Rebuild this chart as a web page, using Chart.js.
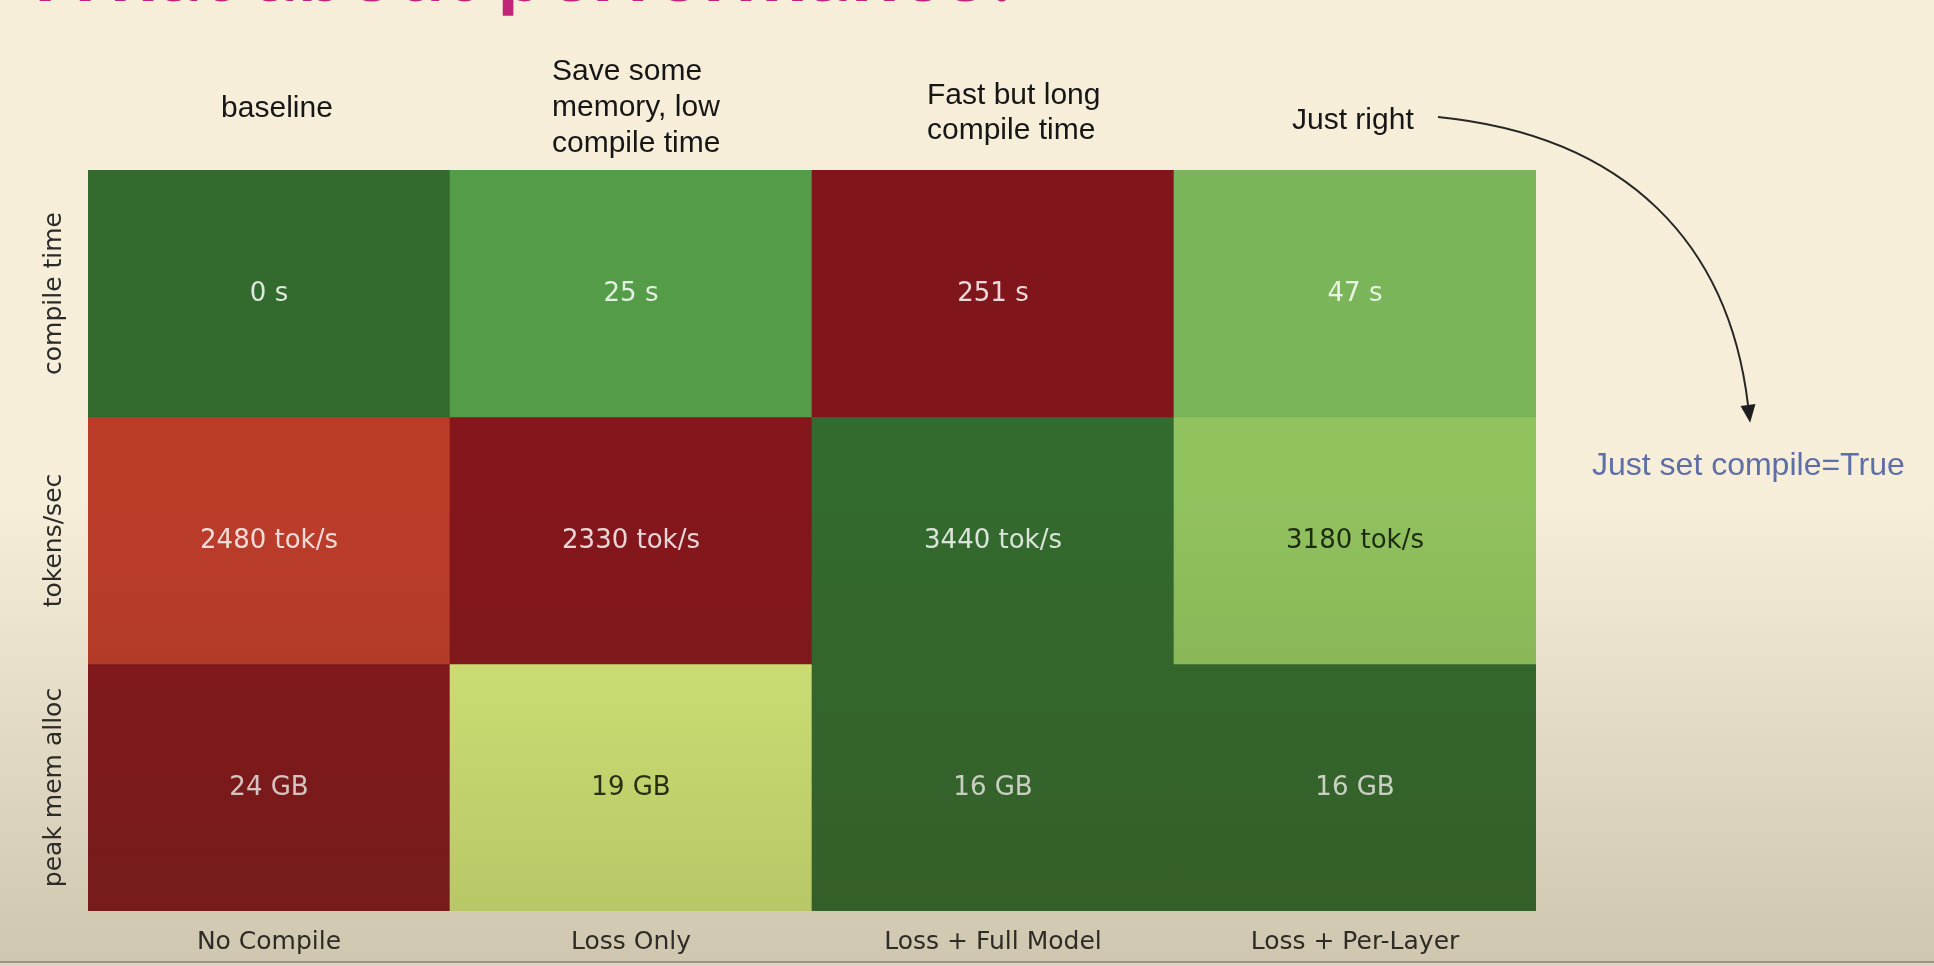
<!DOCTYPE html>
<html><head><meta charset="utf-8">
<script src="https://cdn.jsdelivr.net/npm/chart.js@4.4.1/dist/chart.umd.min.js"></script>
<style>
html,body{margin:0;padding:0;background:#f6eed9;overflow:hidden}
#wrap{width:1934px;height:966px;position:relative}
canvas{display:block}
</style>
</head><body>
<div id="wrap"><canvas id="c" width="1934" height="966"></canvas></div>
<script>
// ---- data ----
const columns = ['No Compile', 'Loss Only', 'Loss + Full Model', 'Loss + Per-Layer'];
const rows = ['compile time', 'tokens/sec', 'peak mem alloc'];
const compileTime = [0, 25, 251, 47];
const tokensPerSec = [2480, 2330, 3440, 3180];
const peakMem = [24, 19, 16, 16];
const units = ['s', 'tok/s', 'GB'];
const columnNotes = [['baseline'], ['Save some', 'memory, low', 'compile time'], ['Fast but long', 'compile time'], ['Just right']];
const calloutText = 'Just set compile=True';
const titleText = 'What about performance?';

// ---- style ----
const rowValues = [compileTime, tokensPerSec, peakMem];
const cellColors = [
  ['#336a2e', '#559c48', '#80161b', '#7ab55a'],
  ['#bc3c2a', '#84161c', '#336a2e', '#90c25e'],
  ['#84161c', '#d5ea7a', '#336a2e', '#336a2e']
];
const tickFont = {family: "'DejaVu Sans'", size: 25};

function luminance(hex) {
  const c = [1, 3, 5].map(i => parseInt(hex.substr(i, 2), 16) / 255)
    .map(v => v <= 0.03928 ? v / 12.92 : Math.pow((v + 0.055) / 1.055, 2.4));
  return 0.2126 * c[0] + 0.7152 * c[1] + 0.0722 * c[2];
}

// measure widest row label to centre rotated y tick labels 34px left of the axis
const mctx = document.createElement('canvas').getContext('2d');
mctx.font = "normal 25px 'DejaVu Sans'";
const widestRow = Math.max(...rows.map(r => mctx.measureText(r).width));
const yPad = 34 - widestRow / 2;

const datasets = rows.map((r, i) => ({
  label: r,
  data: rowValues[i].map(() => [i, i + 1]),
  backgroundColor: cellColors[i],
  borderWidth: 0,
  barPercentage: 1,
  categoryPercentage: 1,
  grouped: false
}));

const decor = {
  id: 'decor',
  beforeDraw(chart) {
    const ctx = chart.ctx;
    ctx.save();
    ctx.fillStyle = '#f6eed9';
    ctx.fillRect(0, 0, chart.width, chart.height);
    ctx.restore();
  },
  afterDatasetsDraw(chart) {
    const ctx = chart.ctx;
    ctx.save();
    ctx.font = "26px 'DejaVu Sans'";
    ctx.textAlign = 'center';
    ctx.textBaseline = 'middle';
    chart.data.datasets.forEach((ds, i) => {
      chart.getDatasetMeta(i).data.forEach((bar, j) => {
        const p = bar.getProps(['x', 'y', 'base'], true);
        const dark = luminance(cellColors[i][j]) > 0.408;
        ctx.fillStyle = dark ? 'rgba(15,25,5,0.9)' : 'rgba(255,255,255,0.84)';
        ctx.fillText(rowValues[i][j] + ' ' + units[i], p.x, (p.y + p.base) / 2 + 1);
      });
    });
    ctx.restore();
  },
  afterDraw(chart) {
    const ctx = chart.ctx;
    const xs = chart.scales.x;
    ctx.save();
    // lighting overlay towards the bottom of the frame
    const g = ctx.createLinearGradient(0, 500, 0, 966);
    g.addColorStop(0, 'rgba(60,50,20,0)');
    g.addColorStop(1, 'rgba(60,50,20,0.21)');
    ctx.fillStyle = g;
    ctx.fillRect(0, 500, chart.width, 466);
    // bottom frame line
    ctx.fillStyle = 'rgba(140,134,120,0.8)';
    ctx.fillRect(0, 961, chart.width, 2);
    ctx.fillStyle = '#dcd6c8';
    ctx.fillRect(0, 963, chart.width, 3);

    // title (cut off at the top)
    ctx.fillStyle = '#c2247a';
    ctx.font = "bold 86px Lato";
    ctx.textAlign = 'left';
    ctx.textBaseline = 'alphabetic';
    ctx.fillText(titleText, 20, 1);

    // column notes
    ctx.fillStyle = '#161616';
    ctx.font = "30px 'Liberation Sans'";
    const baselines = [[117], [80, 116, 152], [104, 139], [129]];
    const lefts = [null, 552, 927, 1292];
    columnNotes.forEach((lines, j) => {
      lines.forEach((ln, k) => {
        if (lefts[j] === null) {
          ctx.textAlign = 'center';
          ctx.fillText(ln, xs.getPixelForValue(j) + 8, baselines[j][k]);
        } else {
          ctx.textAlign = 'left';
          ctx.fillText(ln, lefts[j], baselines[j][k]);
        }
      });
    });

    // arrow from "Just right" to the callout
    const p0 = [1438, 117], p3 = [1748, 405];
    const c1 = [p0[0] + 190, p0[1] + 19], c2 = [p3[0] - 19, p3[1] - 160];
    ctx.strokeStyle = '#262626';
    ctx.lineWidth = 2;
    ctx.beginPath();
    ctx.moveTo(p0[0], p0[1]);
    ctx.bezierCurveTo(c1[0], c1[1], c2[0], c2[1], p3[0], p3[1]);
    ctx.stroke();
    const dx = p3[0] - c2[0], dy = p3[1] - c2[1];
    const L = Math.hypot(dx, dy), ux = dx / L, uy = dy / L;
    const tip = [p3[0] + ux * 18, p3[1] + uy * 18];
    ctx.fillStyle = '#1e1e1e';
    ctx.beginPath();
    ctx.moveTo(tip[0], tip[1]);
    ctx.lineTo(p3[0] - uy * 7.5, p3[1] + ux * 7.5);
    ctx.lineTo(p3[0] + uy * 7.5, p3[1] - ux * 7.5);
    ctx.closePath();
    ctx.fill();

    // callout
    ctx.fillStyle = '#5d6ea8';
    ctx.font = "32px 'Liberation Sans'";
    ctx.textAlign = 'left';
    ctx.fillText(calloutText, 1592, 475);
    ctx.restore();
  }
};

new Chart(document.getElementById('c'), {
  type: 'bar',
  data: {labels: columns, datasets},
  options: {
    responsive: false,
    animation: false,
    devicePixelRatio: 1,
    layout: {padding: {top: 170, right: 398, left: 0, bottom: 0}},
    plugins: {legend: {display: false}, tooltip: {enabled: false}, title: {display: false}},
    scales: {
      x: {
        type: 'category',
        grid: {display: false, drawTicks: false},
        border: {display: false},
        ticks: {font: tickFont, color: '#2a2a2a', padding: 16, maxRotation: 0, autoSkip: false},
        afterFit: s => { s.height = 55; }
      },
      y: {
        type: 'linear',
        min: 0, max: 3, reverse: true,
        grid: {display: false, drawTicks: false},
        border: {display: false},
        afterBuildTicks: s => { s.ticks = rows.map((_, i) => ({value: i + 0.5})); },
        ticks: {
          callback: (v, i) => rows[i],
          font: tickFont, color: '#2a2a2a',
          minRotation: 90, maxRotation: 90,
          crossAlign: 'center', padding: yPad, autoSkip: false
        },
        afterFit: s => { s.width = 88; }
      }
    }
  },
  plugins: [decor]
});
</script>
</body></html>
